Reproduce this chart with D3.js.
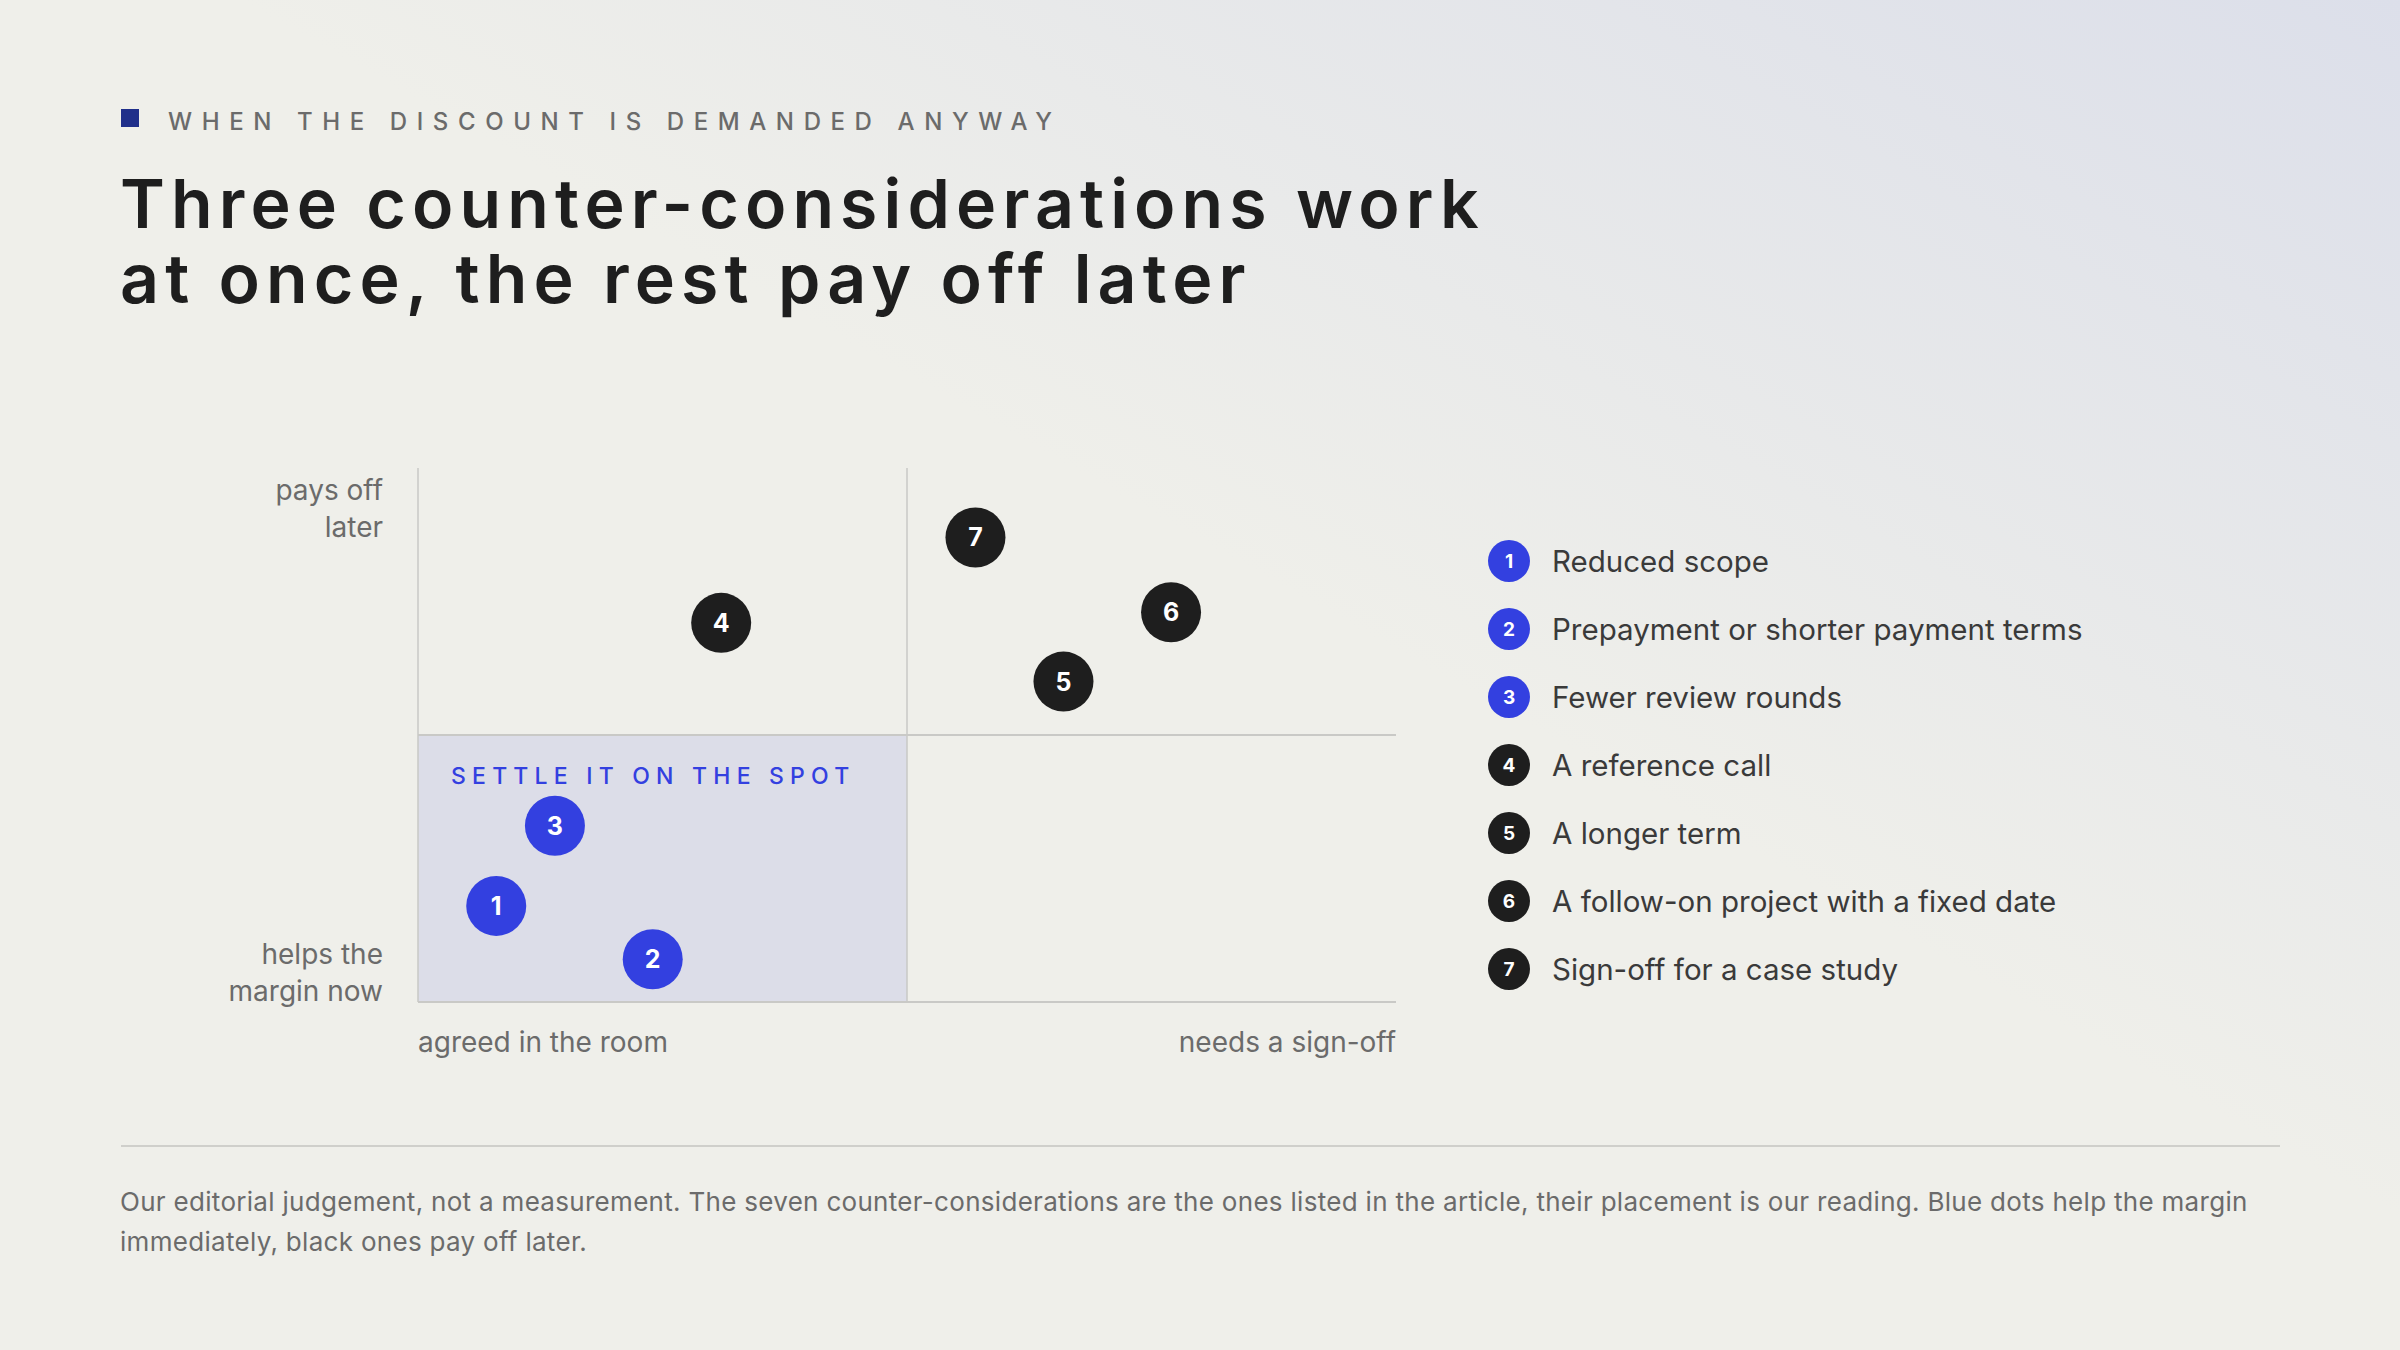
<!DOCTYPE html>
<html>
<head>
<meta charset="utf-8">
<script src="https://cdn.jsdelivr.net/npm/d3@7"></script>
<style>
  body { margin: 0; }
  svg { display: block; }
</style>
</head>
<body>
<script>
var ids = [1, 2, 3, 4, 5, 6, 7];
var labels = ["Reduced scope", "Prepayment or shorter payment terms", "Fewer review rounds",
  "A reference call", "A longer term", "A follow-on project with a fixed date", "Sign-off for a case study"];
var effort = [0.8, 2.4, 1.4, 3.1, 6.6, 7.7, 5.7];   // 0 = agreed in the room, 10 = needs a sign-off
var payoff = [1.8, 0.8, 3.3, 7.1, 6.0, 7.3, 8.7];   // 0 = helps margin now, 10 = pays off later
var groups = ["now", "now", "now", "later", "later", "later", "later"];

var W = 2400, H = 1350;
var font = "Inter, 'Noto Sans', sans-serif";
var blue = "#3340e0", dark = "#1e1e1e", grey = "#6b6b6b";

var svg = d3.select("body").append("svg").attr("width", W).attr("height", H);

var grad = svg.append("defs").append("linearGradient").attr("id", "bg")
  .attr("x1", "0%").attr("y1", "100%").attr("x2", "100%").attr("y2", "0%");
grad.append("stop").attr("offset", "55%").attr("stop-color", "#efefea");
grad.append("stop").attr("offset", "100%").attr("stop-color", "#dcdfea");
svg.append("rect").attr("width", W).attr("height", H).attr("fill", "url(#bg)");

// header
svg.append("rect").attr("x", 121).attr("y", 109).attr("width", 18).attr("height", 18).attr("fill", "#1f2f8a");
svg.append("text").attr("x", 168).attr("y", 130).attr("font-family", font).attr("font-size", 24)
  .attr("font-weight", 500).attr("letter-spacing", "0.4em").attr("fill", grey)
  .text("WHEN THE DISCOUNT IS DEMANDED ANYWAY");
var title = svg.append("text").attr("font-family", font).attr("font-size", 68).attr("font-weight", 600)
  .attr("letter-spacing", "0.09em").attr("fill", dark);
title.append("tspan").attr("x", 120).attr("y", 228).text("Three counter-considerations work");
title.append("tspan").attr("x", 120).attr("y", 303).text("at once, the rest pay off later");

// plot
var x = d3.scaleLinear().domain([0, 10]).range([418, 1396]);
var y = d3.scaleLinear().domain([0, 10]).range([1002, 468]);

svg.append("rect").attr("x", x(0)).attr("y", y(5)).attr("width", x(5) - x(0)).attr("height", y(0) - y(5))
  .attr("fill", "#dcdde8");
var lineC = "#c9c9c6";
svg.append("line").attr("x1", x(0)).attr("x2", x(0)).attr("y1", y(10)).attr("y2", y(0)).attr("stroke", lineC).attr("stroke-width", 1.5);
svg.append("line").attr("x1", x(5)).attr("x2", x(5)).attr("y1", y(10)).attr("y2", y(0)).attr("stroke", lineC).attr("stroke-width", 1.5);
svg.append("line").attr("x1", x(0)).attr("x2", x(10)).attr("y1", y(5)).attr("y2", y(5)).attr("stroke", lineC).attr("stroke-width", 2);
svg.append("line").attr("x1", x(0)).attr("x2", x(10)).attr("y1", y(0)).attr("y2", y(0)).attr("stroke", lineC).attr("stroke-width", 2);

svg.append("text").attr("x", 451).attr("y", 784).attr("font-family", font).attr("font-size", 23)
  .attr("font-weight", 500).attr("letter-spacing", "0.27em").attr("fill", blue).text("SETTLE IT ON THE SPOT");

function axisText(tx, ty, anchor, lines) {
  var t = svg.append("text").attr("font-family", font).attr("font-size", 28).attr("fill", grey).attr("text-anchor", anchor);
  lines.forEach(function(l, i) { t.append("tspan").attr("x", tx).attr("y", ty + i * 37).text(l); });
}
axisText(383, 500, "end", ["pays off", "later"]);
axisText(383, 964, "end", ["helps the", "margin now"]);
axisText(x(0), 1052, "start", ["agreed in the room"]);
axisText(x(10), 1052, "end", ["needs a sign-off"]);

var dots = svg.selectAll("g.dot").data(ids).enter().append("g").attr("class", "dot")
  .attr("transform", function(d, i) { return "translate(" + x(effort[i]) + "," + y(payoff[i]) + ")"; });
dots.append("circle").attr("r", 30).attr("fill", function(d, i) { return groups[i] === "now" ? blue : dark; });
dots.append("text").attr("text-anchor", "middle").attr("dy", "0.36em").attr("font-family", font)
  .attr("font-size", 25).attr("font-weight", 700).attr("fill", "#fff").text(function(d) { return d; });

// legend
var ly = d3.scalePoint().domain(ids).range([561, 969]);
var leg = svg.selectAll("g.leg").data(ids).enter().append("g").attr("class", "leg")
  .attr("transform", function(d) { return "translate(1509," + ly(d) + ")"; });
leg.append("circle").attr("r", 21).attr("fill", function(d, i) { return groups[i] === "now" ? blue : dark; });
leg.append("text").attr("text-anchor", "middle").attr("dy", "0.36em").attr("font-family", font)
  .attr("font-size", 19).attr("font-weight", 700).attr("fill", "#fff").text(function(d) { return d; });
leg.append("text").attr("x", 43).attr("dy", "0.36em").attr("font-family", font).attr("font-size", 29.5)
  .attr("fill", "#3a3a3a").text(function(d, i) { return labels[i]; });

// footer
svg.append("line").attr("x1", 121).attr("x2", 2280).attr("y1", 1146).attr("y2", 1146).attr("stroke", "#cfcfcb").attr("stroke-width", 2);
var foot = svg.append("text").attr("font-family", font).attr("font-size", 26).attr("letter-spacing", "0.3px").attr("fill", grey);
foot.append("tspan").attr("x", 120).attr("y", 1211)
  .text("Our editorial judgement, not a measurement. The seven counter-considerations are the ones listed in the article, their placement is our reading. Blue dots help the margin");
foot.append("tspan").attr("x", 120).attr("y", 1251).text("immediately, black ones pay off later.");
</script>
</body>
</html>
